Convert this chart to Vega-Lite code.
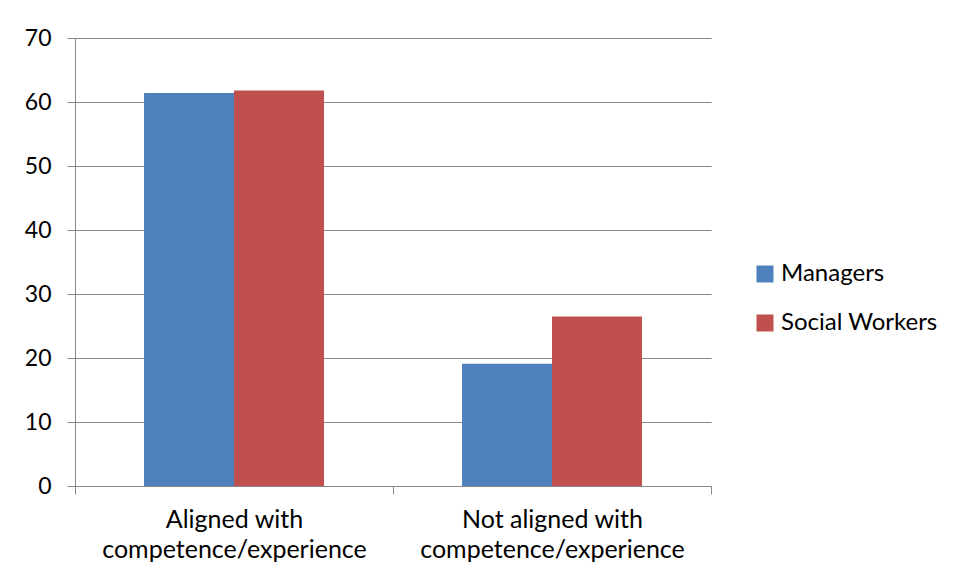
{
  "$schema": "https://vega.github.io/schema/vega-lite/v6.json",
  "width": 636,
  "height": 448,
  "autosize": {"type": "none"},
  "padding": {"left": 75, "top": 38, "right": 247, "bottom": 95},
  "background": "white",
  "config": {"view": {"stroke": null}, "font": "Lato"},
  "data": {
    "values": [
      {"category": "Aligned with|competence/experience", "group": "Managers", "value": 61.4},
      {"category": "Aligned with|competence/experience", "group": "Social Workers", "value": 61.8},
      {"category": "Not aligned with|competence/experience", "group": "Managers", "value": 19.1},
      {"category": "Not aligned with|competence/experience", "group": "Social Workers", "value": 26.5}
    ]
  },
  "mark": {"type": "bar"},
  "encoding": {
    "x": {
      "field": "category",
      "type": "nominal",
      "scale": {"paddingInner": 0, "paddingOuter": 0},
      "axis": {
        "title": null,
        "labelAngle": 0,
        "labelExpr": "split(datum.label, '|')",
        "labelFontSize": 25,
        "labelLineHeight": 30,
        "labelLimit": 0,
        "labelColor": "#000",
        "labelPadding": 13,
        "tickBand": "extent",
        "tickSize": 8,
        "tickColor": "#888",
        "domainColor": "#888",
        "grid": false
      }
    },
    "xOffset": {
      "field": "group",
      "type": "nominal",
      "sort": ["Managers", "Social Workers"],
      "scale": {"paddingInner": 0, "paddingOuter": 0.767}
    },
    "y": {
      "field": "value",
      "type": "quantitative",
      "scale": {"domain": [0, 70]},
      "axis": {
        "title": null,
        "values": [0, 10, 20, 30, 40, 50, 60, 70],
        "labelFontSize": 23,
        "labelColor": "#000",
        "labelPadding": 16,
        "tickSize": 8,
        "tickColor": "#888",
        "domainColor": "#888",
        "gridColor": "#888"
      }
    },
    "color": {
      "field": "group",
      "type": "nominal",
      "scale": {"domain": ["Managers", "Social Workers"], "range": ["#4F81BD", "#C0504D"]},
      "legend": {
        "title": null,
        "orient": "none",
        "legendX": 678,
        "legendY": 224,
        "symbolType": "square",
        "symbolSize": 289,
        "symbolStrokeWidth": 0,
        "labelFontSize": 24,
        "labelColor": "#000",
        "labelOffset": 4,
        "rowPadding": 25
      }
    }
  }
}
